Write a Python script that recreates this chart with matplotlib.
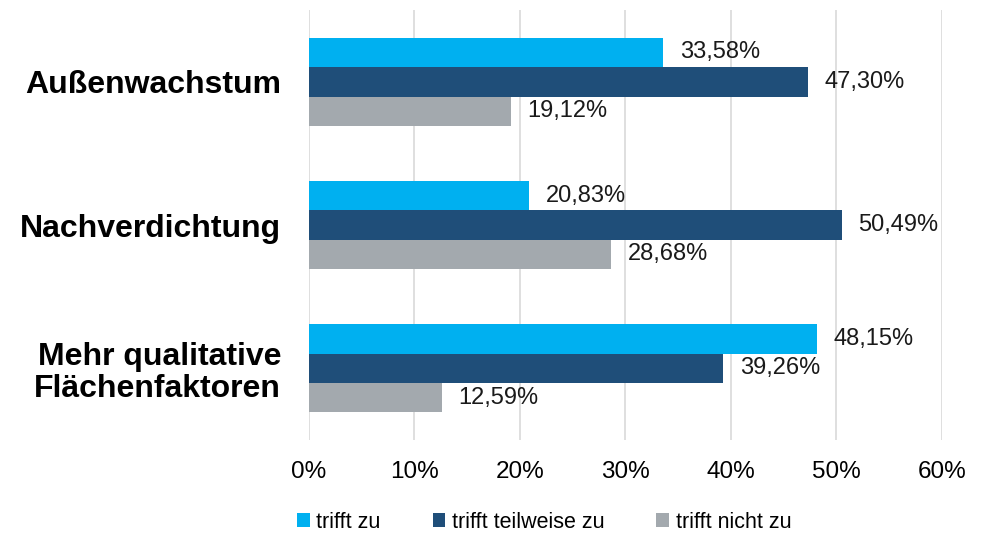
import matplotlib.pyplot as plt
import numpy as np

categories = ["Außenwachstum", "Nachverdichtung", "Mehr qualitative\nFlächenfaktoren"]
series_names = ["trifft zu", "trifft teilweise zu", "trifft nicht zu"]
trifft_zu = [33.58, 20.83, 48.15]
teilweise = [47.30, 50.49, 39.26]
nicht_zu = [19.12, 28.68, 12.59]
colors = ["#00B0F0", "#1F4E79", "#A3A9AE"]

plt.rcParams['font.family'] = ['Liberation Sans', 'DejaVu Sans']

fig = plt.figure(figsize=(9.93, 5.36), dpi=100)
ax = fig.add_axes([0.311, 0.179, 0.6375, 0.802])

y = np.arange(len(categories))
h = 0.205
for i, (vals, name) in enumerate(zip([trifft_zu, teilweise, nicht_zu], series_names)):
    pos = y + (i - 1) * h
    ax.barh(pos, vals, height=h, color=colors[i], label=name, zorder=3)
    for p, v in zip(pos, vals):
        ax.text(v + 1.6, p, f"{v:.2f}%".replace(".", ","), va="center", ha="left",
                fontsize=17, color="#1a1a1a", zorder=4)

ax.set_ylim(2.5, -0.5)
ax.set_xlim(0, 60)
ax.set_xticks(np.arange(0, 61, 10))
ax.set_xticklabels([f"{t}%" for t in range(0, 61, 10)], fontsize=17.5)
ax.set_yticks(y)
ax.set_yticklabels(categories, fontsize=23, fontweight="bold", linespacing=1.1)
ax.tick_params(length=0, axis="x", pad=15)
ax.tick_params(length=0, axis="y", pad=20)
ax.grid(axis="x", color="#d9d9d9", linewidth=1.2, zorder=0)
for s in ax.spines.values():
    s.set_visible(False)

fig.legend(loc="lower center", bbox_to_anchor=(0.548, -0.03), ncol=3, frameon=False,
           fontsize=15.5, handlelength=0.6, handleheight=0.6, handletextpad=0.3,
           columnspacing=2.4)

plt.savefig("out.png", dpi=100)
